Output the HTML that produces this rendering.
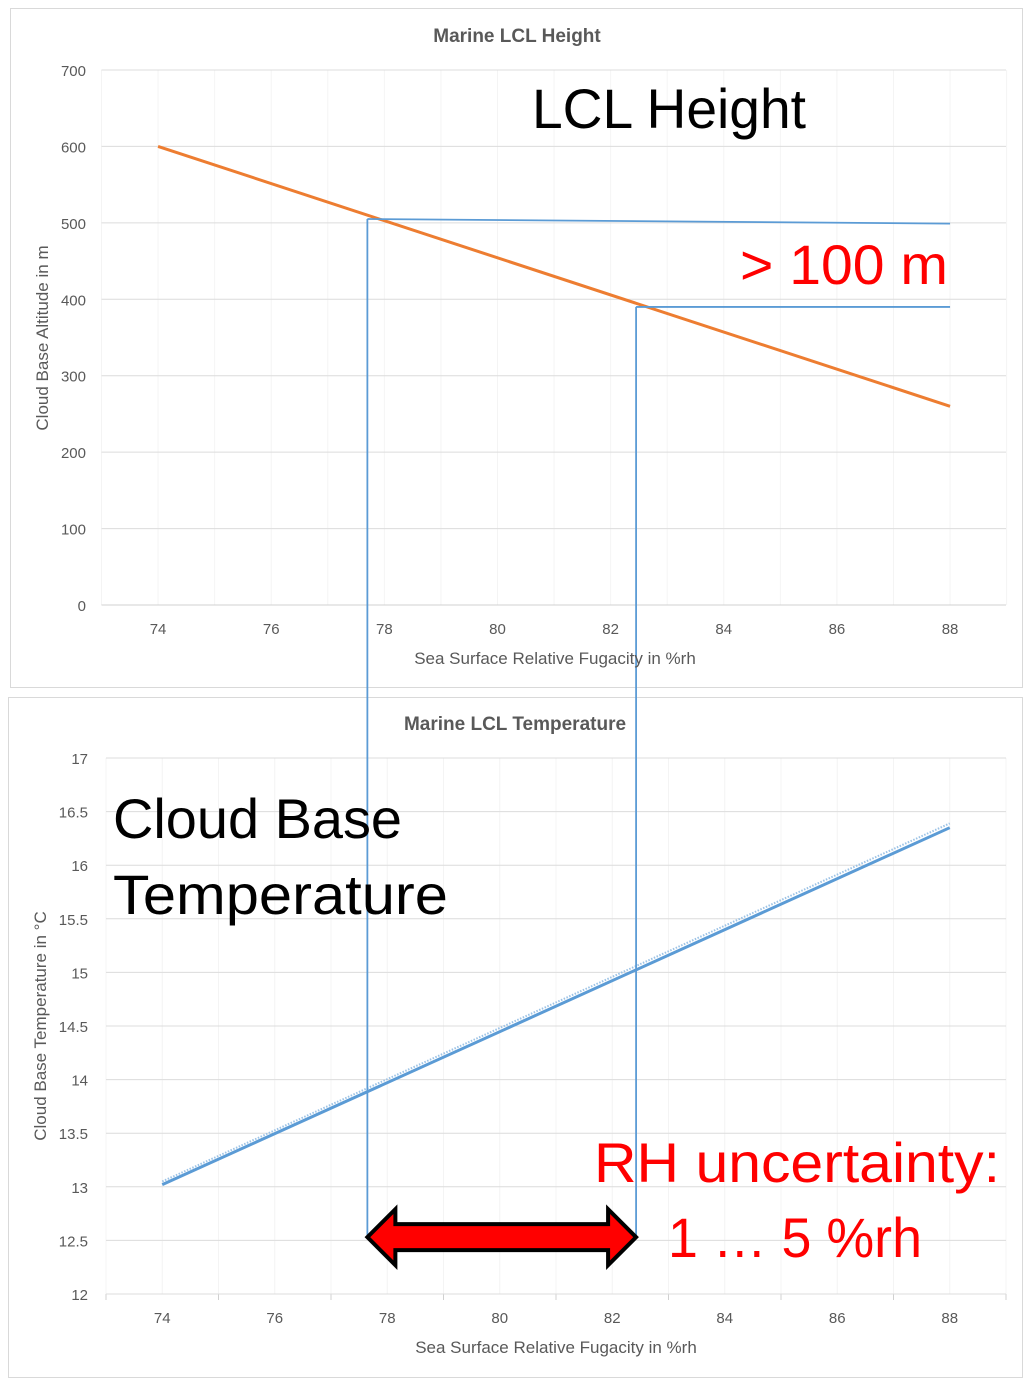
<!DOCTYPE html>
<html><head><meta charset="utf-8"><style>
html,body{margin:0;padding:0;background:#fff;}
svg{display:block;font-family:"Liberation Sans",sans-serif;}
</style></head><body>
<svg id="s" width="1032" height="1384" viewBox="0 0 1032 1384">
<rect x="10.5" y="8.5" width="1012" height="679" fill="#fff" stroke="#d9d9d9"/>
<rect x="8.5" y="697.5" width="1014" height="680" fill="#fff" stroke="#d9d9d9"/>
<g id="gtop"></g><g id="gbot"></g><g id="gann"></g>
<text x="517" y="42" text-anchor="middle" font-size="19" font-weight="bold" fill="#595959">Marine  LCL Height</text>
<text x="555" y="664" text-anchor="middle" font-size="17" fill="#595959">Sea Surface Relative Fugacity in %rh</text>
<text transform="translate(48,338) rotate(-90)" text-anchor="middle" font-size="17" fill="#595959">Cloud Base Altitude in m</text>
<text x="515" y="730" text-anchor="middle" font-size="19" font-weight="bold" fill="#595959">Marine  LCL Temperature</text>
<text x="556" y="1353" text-anchor="middle" font-size="17" fill="#595959">Sea Surface Relative Fugacity in %rh</text>
<text transform="translate(46,1026) rotate(-90)" text-anchor="middle" font-size="17" fill="#595959">Cloud Base Temperature in °C</text>
<text x="532" y="128" font-size="56" textLength="274" lengthAdjust="spacingAndGlyphs" fill="#000">LCL Height</text>
<text x="740" y="284" font-size="56" textLength="208" lengthAdjust="spacingAndGlyphs" fill="#ff0000">&gt; 100 m</text>
<text x="113" y="838" font-size="56" textLength="289" lengthAdjust="spacingAndGlyphs" fill="#000">Cloud Base</text>
<text x="113" y="914" font-size="56" textLength="335" lengthAdjust="spacingAndGlyphs" fill="#000">Temperature</text>
<text x="594" y="1182" font-size="56" textLength="406" lengthAdjust="spacingAndGlyphs" fill="#ff0000">RH uncertainty:</text>
<text x="668" y="1257" font-size="56" textLength="254" lengthAdjust="spacingAndGlyphs" fill="#ff0000">1 … 5 %rh</text>
</svg>
<script>
// Top chart data
const xTicks = [74,76,78,80,82,84,86,88];
const hTicks = [0,100,200,300,400,500,600,700];
const hX = [74,88];
const hY = [600,260];
const hRef1X = [77.7,88]; const hRef1Y = [505,499];
const hRef2X = [82.45,88]; const hRef2Y = [390,390];
// Bottom chart data
const tTicks = [12,12.5,13,13.5,14,14.5,15,15.5,16,16.5,17];
const tTickLabels = ["12","12.5","13","13.5","14","14.5","15","15.5","16","16.5","17"];
const tX = [74,88];
const tY = [13.02,16.35];
const tTrendY = [13.05,16.39];
const markX = [77.7,82.45];
const markTopH = [505,390];
const arrowLevel = 12.53;

const NS="http://www.w3.org/2000/svg";
function mk(parent,tag,attrs){const e=document.createElementNS(NS,tag);for(const k in attrs)e.setAttribute(k,attrs[k]);parent.appendChild(e);return e;}
const tx=v=>101.5+(v-73)*56.57, ty=v=>605-v*0.7643;
const bx=v=>106+(v-73)*56.25, by=v=>1294-(v-12)*107.2;
const gTop=document.getElementById('gtop'), gBot=document.getElementById('gbot'), gAnn=document.getElementById('gann');

for(let v=73;v<=89;v++){const l=mk(gTop,'line',{x1:tx(v),x2:tx(v),y1:70,y2:605,stroke:'#f4f4f4'});

}
hTicks.forEach(v=>{const l=mk(gTop,'line',{x1:101.5,x2:1006,y1:ty(v),y2:ty(v),stroke:v===0?'#d0d0d0':'#dcdcdc'});


const t=mk(gTop,'text',{x:86,y:ty(v)+6,'text-anchor':'end','font-size':15,fill:'#595959'});t.textContent=v;

});
xTicks.forEach(v=>{const t=mk(gTop,'text',{x:tx(v),y:634,'text-anchor':'middle','font-size':15,fill:'#595959'});t.textContent=v;

});
let p=mk(gTop,'polyline',{points:hX.map((x,i)=>tx(x)+','+ty(hY[i])).join(' '),fill:'none',stroke:'#ed7d31','stroke-width':3});


[[hRef1X,hRef1Y],[hRef2X,hRef2Y]].forEach(([xs,ys])=>{const r=mk(gTop,'polyline',{points:xs.map((x,i)=>tx(x)+','+ty(ys[i])).join(' '),fill:'none',stroke:'#5b9bd5','stroke-width':1.8});

});

for(let v=73;v<=89;v++){const l=mk(gBot,'line',{x1:bx(v),x2:bx(v),y1:758,y2:1294,stroke:'#f4f4f4'});


if(v%2===1){const k=mk(gBot,'line',{x1:bx(v),x2:bx(v),y1:1294,y2:1300,stroke:'#d0d0d0'});

}}
tTicks.forEach((v,i)=>{const l=mk(gBot,'line',{x1:106,x2:1006,y1:by(v),y2:by(v),stroke:'#dcdcdc'});


const t=mk(gBot,'text',{x:88,y:by(v)+6,'text-anchor':'end','font-size':15,fill:'#595959'});t.textContent=tTickLabels[i];

});
xTicks.forEach(v=>{const t=mk(gBot,'text',{x:bx(v),y:1323,'text-anchor':'middle','font-size':15,fill:'#595959'});t.textContent=v;

});
let tr=mk(gBot,'polyline',{points:tX.map((x,i)=>bx(x)+','+by(tTrendY[i])).join(' '),fill:'none',stroke:'#9dc3e6','stroke-width':2,'stroke-dasharray':'1.5 1.5'});


let tl=mk(gBot,'polyline',{points:tX.map((x,i)=>bx(x)+','+by(tY[i])).join(' '),fill:'none',stroke:'#5b9bd5','stroke-width':3});



markX.forEach((v,i)=>{const x=tx(v);const l=mk(gAnn,'line',{x1:x,x2:x,y1:ty(markTopH[i]),y2:by(arrowLevel),stroke:'#5b9bd5','stroke-width':1.8});

});
const ax1=tx(markX[0]), ax2=tx(markX[1]), ay=by(arrowLevel);
const a=mk(gAnn,'polygon',{points:[[ax1,ay],[ax1+28,ay-28],[ax1+28,ay-13],[ax2-28,ay-13],[ax2-28,ay-28],[ax2,ay],[ax2-28,ay+28],[ax2-28,ay+13],[ax1+28,ay+13],[ax1+28,ay+28]].map(p=>p.join(',')).join(' '),fill:'#ff0000',stroke:'#000','stroke-width':4,'stroke-linejoin':'miter'});


</script>
</body></html>
